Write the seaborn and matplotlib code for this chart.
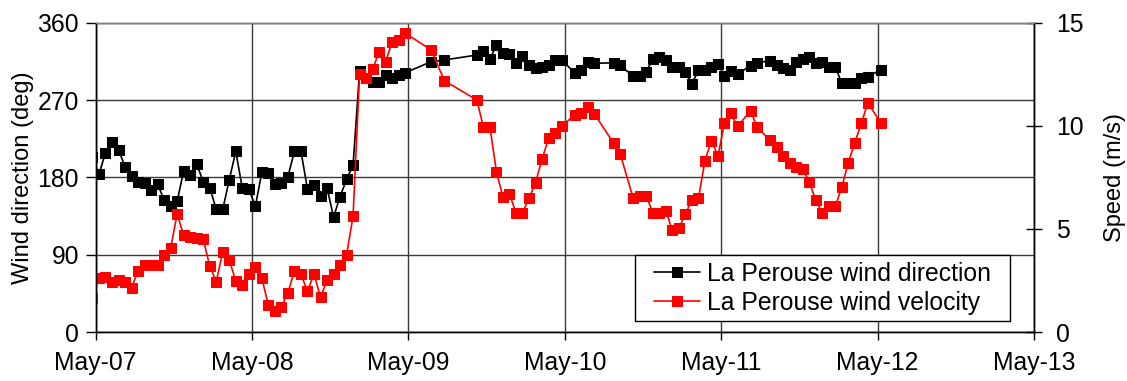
import matplotlib
matplotlib.use("Agg")
import matplotlib.pyplot as plt
import matplotlib.dates as mdates
import matplotlib.patches as mpatches
import pandas as pd
import seaborn as sns

# Hourly readings (hours after May-07 00:30); gaps are hours with no record
hour = [-1, 0, 1, 2, 3, 4, 5, 6, 7, 8, 9, 10, 11, 12, 13, 14, 15, 16, 17, 18, 19,
        20, 21, 22, 23, 24, 25, 26, 27, 28, 29, 30, 31, 32, 33, 34, 35, 36, 37, 38,
        39, 40, 41, 42, 43, 44, 45, 46, 47, 51, 53, 58, 59, 60, 61, 62, 63, 64, 65,
        66, 67, 68, 69, 70, 71, 73, 74, 75, 76, 79, 80, 82, 83, 84, 85, 86, 87, 88,
        89, 90, 91, 92, 93, 94, 95, 96, 97, 98, 100, 101, 103, 104, 105, 106, 107,
        108, 109, 110, 111, 112, 113, 114, 115, 116, 117, 118, 120]

# Wind direction (deg)
direction = [204.0, 183.5, 208.7, 221.5, 212.2, 192.4, 181.2, 174.2, 173.4, 164.9, 172.3,
             153.6, 147.0, 152.1, 187.7, 182.7, 195.5, 174.9, 168.0, 142.8, 142.8,
             177.3, 210.3, 167.3, 166.4, 146.3, 185.9, 184.7, 172.6, 173.8, 180.8,
             210.3, 210.3, 166.4, 171.4, 158.6, 168.0, 133.8, 157.5, 177.7, 194.4,
             303.8, 296.0, 291.3, 291.3, 299.1, 295.3, 299.1, 301.8, 314.6, 316.6,
             322.4, 327.4, 317.4, 334.0, 324.4, 323.2, 312.7, 321.2, 310.8, 307.6,
             308.1, 310.8, 316.6, 316.6, 301.8, 304.9, 314.6, 312.7, 313.4, 310.2,
             297.6, 298.0, 302.6, 318.0, 320.4, 316.6, 308.4, 308.8, 302.4, 289.0,
             304.6, 305.3, 308.8, 312.3, 298.0, 303.8, 300.6, 309.6, 313.4, 315.8,
             311.3, 307.6, 304.9, 313.7, 318.3, 320.4, 312.7, 314.6, 307.9, 308.8,
             289.5, 289.5, 289.8, 295.3, 296.8, 305.5]

# Wind speed (m/s)
speed = [1.65, 2.60, 2.68, 2.44, 2.52, 2.44, 2.15, 2.97, 3.27, 3.23, 3.27,
         3.73, 4.06, 5.72, 4.70, 4.59, 4.55, 4.50, 3.20, 2.44, 3.89,
         3.49, 2.47, 2.28, 2.81, 3.15, 2.60, 1.31, 1.02, 1.23, 1.91,
         2.95, 2.81, 1.97, 2.83, 1.68, 2.51, 2.83, 3.27, 3.73, 5.63,
         12.51, 12.33, 12.74, 13.59, 13.11, 14.08, 14.16, 14.49, 13.68, 12.19,
         11.25, 9.93, 9.96, 7.77, 6.55, 6.69, 5.79, 5.79, 6.48, 7.24,
         8.38, 9.39, 9.67, 9.98, 10.52, 10.62, 10.91, 10.59, 9.15, 8.63,
         6.48, 6.60, 6.60, 5.79, 5.77, 5.87, 4.93, 5.03, 5.72, 6.40,
         6.48, 8.31, 9.28, 8.54, 10.12, 10.60, 9.97, 10.73, 9.93, 9.29,
         8.97, 8.54, 8.20, 7.99, 7.91, 7.29, 6.40, 5.79, 6.09, 6.09,
         7.02, 8.21, 9.18, 10.12, 11.11, 10.14]

series_labels = ["La Perouse wind direction", "La Perouse wind velocity"]
dir_ticks = [0, 90, 180, 270, 360]
speed_ticks = [0, 5, 10, 15]

start = pd.Timestamp("2008-05-07 00:30")
df = pd.DataFrame({
    "time": start + pd.to_timedelta(hour, unit="h"),
    "direction": direction,
    "speed": speed,
})

sns.set_theme(style="white")
plt.rcParams["font.family"] = ["Liberation Sans", "DejaVu Sans"]
plt.rcParams.update({"text.color": "black", "axes.labelcolor": "black",
                     "xtick.color": "black", "ytick.color": "black"})
FS = 17.8     # tick labels and legend
FS_LAB = 17   # axis titles

fig = plt.figure(figsize=(11.27, 3.81), dpi=100)
W, H = 1127, 381
ax = fig.add_axes([95.7 / W, 1 - 332 / H, (1034 - 95.7) / W, (332 - 22.7) / H])
ax2 = ax.twinx()

sns.lineplot(data=df, x="time", y="direction", ax=ax, color="black",
             marker="s", markersize=6.5, markeredgecolor="black", linewidth=1.2,
             estimator=None, sort=False, label=series_labels[0])
sns.lineplot(data=df, x="time", y="speed", ax=ax2, color="#ff0000",
             marker="s", markersize=6.5, markeredgecolor="#ff0000", linewidth=1.2,
             estimator=None, sort=False, label=series_labels[1])

ax.set_xlim(pd.Timestamp("2008-05-07"), pd.Timestamp("2008-05-13"))
ax.xaxis.set_major_locator(mdates.DayLocator())
ax.xaxis.set_major_formatter(mdates.DateFormatter("%b-%d"))

ax.set_ylim(0, 360)
ax.set_yticks(dir_ticks)
ax2.set_ylim(0, 15)
ax2.set_yticks(speed_ticks)

ax.grid(True, color="#3a3a3a", linewidth=1.0)
ax2.grid(False)

ax.set_xlabel("")
ax.set_ylabel("Wind direction (deg)", fontsize=FS_LAB, color="black")
ax2.set_ylabel("Speed (m/s)", fontsize=FS_LAB, color="black")
ax.yaxis.set_label_coords(-0.0658, 0.5)
ax2.yaxis.set_label_coords(1.0745, 0.5)

ax.tick_params(axis="x", direction="out", length=6, width=1, color="black",
               labelcolor="black", labelsize=FS, pad=8, bottom=True)
ax.tick_params(axis="y", direction="out", length=7, width=1, color="black",
               labelcolor="black", labelsize=FS, pad=5, left=True)
ax2.tick_params(axis="y", direction="inout", length=11, width=1, color="black",
                labelcolor="black", labelsize=FS, pad=10.5, right=True)

for a in (ax, ax2):
    for side, sp in a.spines.items():
        sp.set_linewidth(1.0)
        sp.set_color("black")
    a.spines["top"].set_color("#808080")

# Combined legend in an opaque box
handles = ax.get_legend().legend_handles + ax2.get_legend().legend_handles
ax.get_legend().remove()
ax2.get_legend().remove()
box = mpatches.Rectangle((635 / W, 1 - 321 / H), (1010 - 635) / W, (321 - 255) / H,
                         transform=fig.transFigure, facecolor="white",
                         edgecolor="black", linewidth=1.0, zorder=4, clip_on=False)
ax2.add_patch(box)
leg = ax2.legend(handles, series_labels, loc="upper left",
                 bbox_to_anchor=(654 / W, 1 - 262 / H),
                 bbox_transform=fig.transFigure, frameon=False, fontsize=FS,
                 borderpad=0, borderaxespad=0, handlelength=1.85,
                 handletextpad=0.3, labelspacing=0.2)
for t in leg.get_texts():
    t.set_color("black")
leg.set_zorder(5)

fig.savefig("out.png", dpi=100, facecolor="white")
